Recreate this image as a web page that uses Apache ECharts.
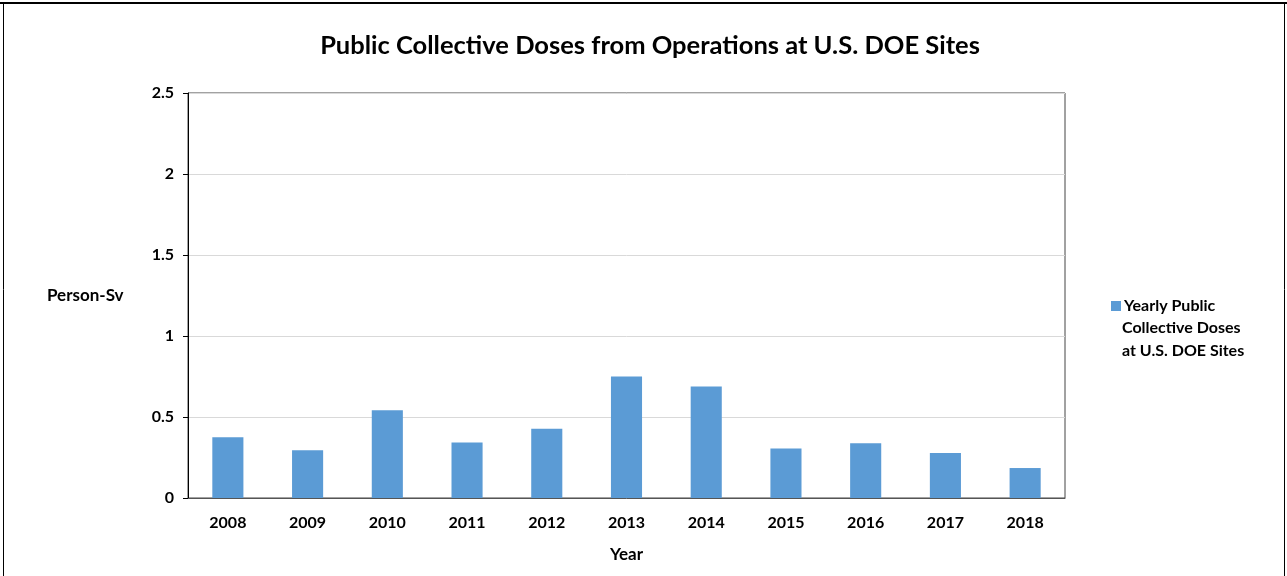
<!DOCTYPE html>
<html>
<head>
<meta charset="utf-8">
<script src="https://cdn.jsdelivr.net/npm/echarts@6/dist/echarts.min.js"></script>
<style>html,body{margin:0;padding:0;background:#fff}#c{width:1287px;height:576px}</style>
</head>
<body>
<div id="c"></div>
<script>
const categories = ['2008','2009','2010','2011','2012','2013','2014','2015','2016','2017','2018'];
const doses = [0.375, 0.295, 0.542, 0.342, 0.428, 0.750, 0.688, 0.305, 0.338, 0.278, 0.185];
const seriesName = 'Yearly Public';
const legendExtraLines = ['Collective Doses', 'at U.S. DOE Sites'];
const yTicks = {min: 0, max: 2.5, interval: 0.5};

const FONT = 'Lato, "Open Sans", sans-serif';
const chart = echarts.init(document.getElementById('c'), null, {renderer: 'canvas'});
chart.setOption({
  animation: false,
  backgroundColor: '#fff',
  title: {
    text: 'Public Collective Doses from Operations at U.S. DOE Sites',
    left: 645, top: 28, textAlign: 'center',
    textStyle: {fontFamily: FONT, fontSize: 25.5, fontWeight: 'bold', color: '#000'}
  },
  grid: {left: 188, right: 222, top: 93, bottom: 78, show: true, borderColor: '#444', borderWidth: 1},
  legend: {
    show: true, left: 1106, top: 293, orient: 'vertical',
    itemWidth: 10, itemHeight: 10, itemGap: 4,
    textStyle: {fontFamily: FONT, fontSize: 16, fontWeight: 'bold', color: '#000', padding: [0, 0, 0, -2]},
    data: [{name: seriesName, icon: 'rect'}]
  },
  xAxis: {
    type: 'category', data: categories,
    name: 'Year', nameLocation: 'middle', nameGap: 48,
    nameTextStyle: {fontFamily: FONT, fontSize: 17, fontWeight: 'bold', color: '#000'},
    axisLine: {lineStyle: {color: '#555', width: 1}},
    axisTick: {show: false},
    axisLabel: {fontFamily: FONT, fontSize: 16, fontWeight: 'bold', color: '#000', margin: 17}
  },
  yAxis: {
    type: 'value', min: yTicks.min, max: yTicks.max, interval: yTicks.interval,
    axisLine: {show: true, lineStyle: {color: '#000', width: 1}},
    axisTick: {show: true, length: 5, lineStyle: {color: '#000'}},
    splitLine: {lineStyle: {color: '#d9d9d9'}},
    axisLabel: {fontFamily: FONT, fontSize: 16, fontWeight: 'bold', color: '#000', margin: 14,
      formatter: v => String(v)}
  },
  series: [{
    name: seriesName, type: 'bar', data: doses, barWidth: '39%',
    itemStyle: {color: '#5b9bd5'}
  }],
  graphic: [
    {type: 'text', left: 47, top: 287, style: {text: 'Person-Sv', font: 'bold 17px ' + FONT, fill: '#000'}},
    {type: 'text', left: 1122, top: 316, style: {text: legendExtraLines.join('\n'), font: 'bold 16px ' + FONT, fill: '#000', lineHeight: 23}},
    {type: 'line', shape: {x1: 0, y1: 3, x2: 1287, y2: 3}, style: {stroke: '#000', lineWidth: 2}},
    {type: 'line', shape: {x1: 3.5, y1: 3, x2: 3.5, y2: 576}, style: {stroke: '#000', lineWidth: 1}},
    {type: 'line', shape: {x1: 1284.5, y1: 3, x2: 1284.5, y2: 576}, style: {stroke: '#000', lineWidth: 1}}
  ]
});
</script>
</body>
</html>
